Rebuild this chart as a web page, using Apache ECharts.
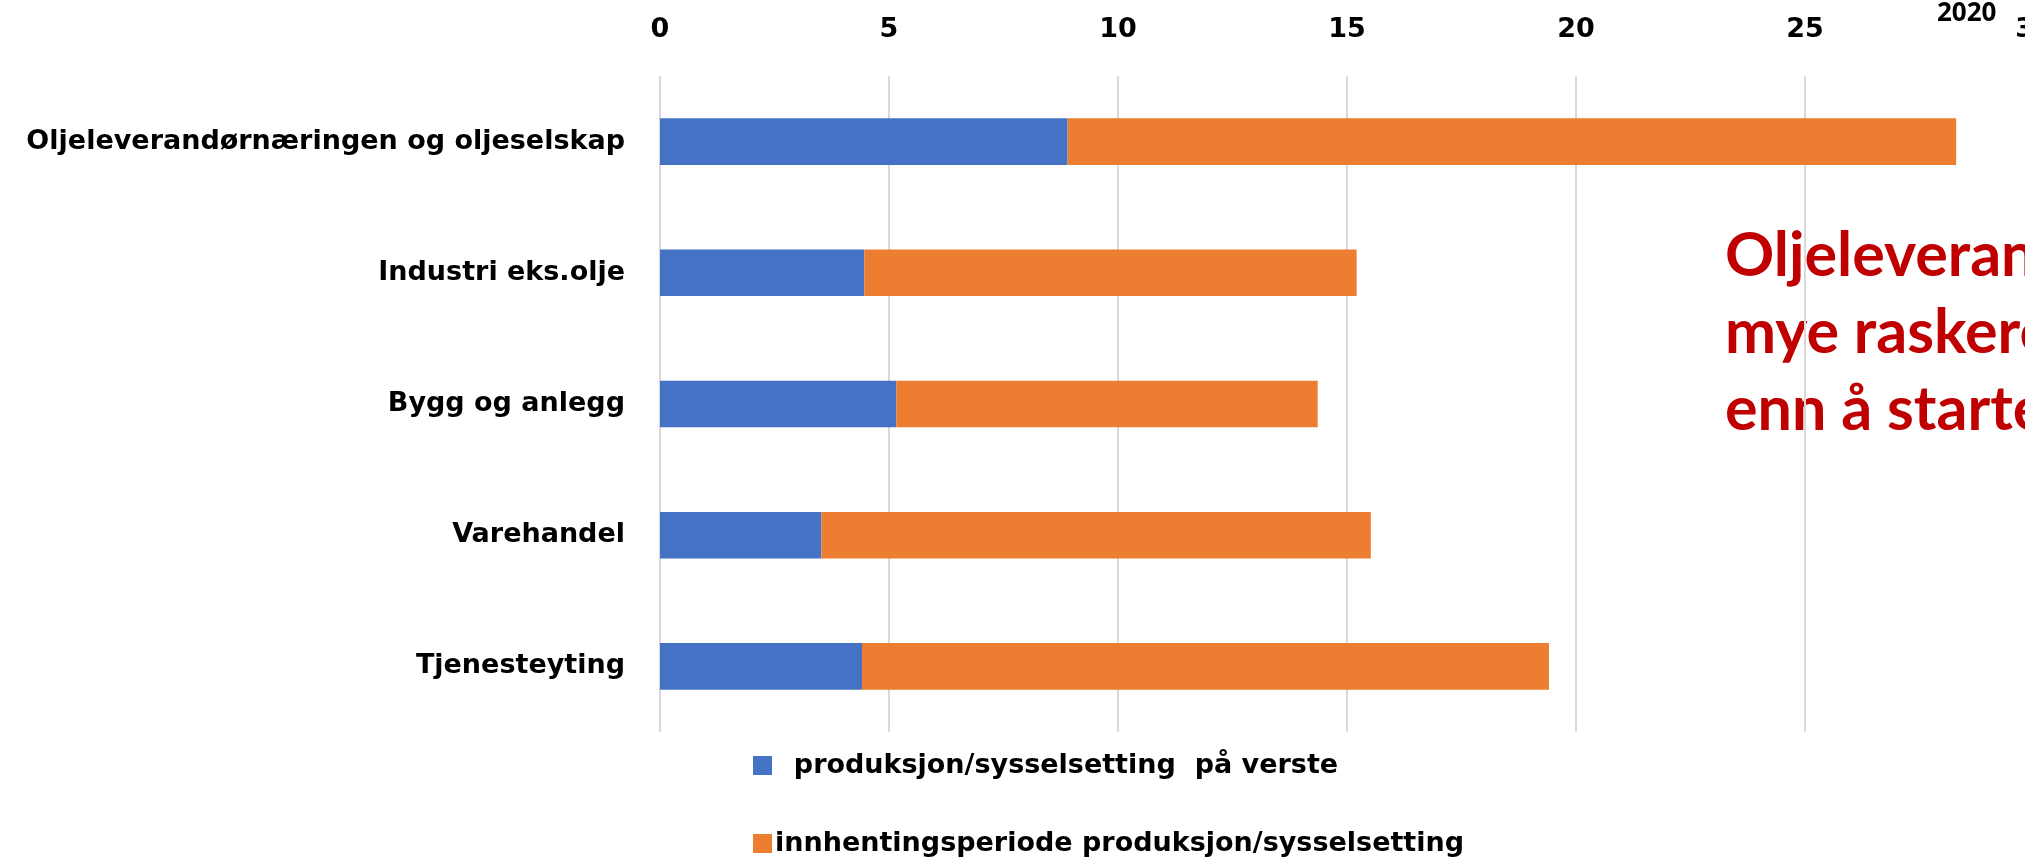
<!DOCTYPE html>
<html>
<head>
<meta charset="utf-8">
<script src="https://cdn.jsdelivr.net/npm/echarts@6/dist/echarts.min.js"></script>
<style>
html,body{margin:0;padding:0;background:#fff;}
#c{width:2025px;height:858px;}
</style>
</head>
<body>
<div id="c"></div>
<script>
var categories = ['Oljeleverandørnæringen og oljeselskap', 'Industri eks.olje', 'Bygg og anlegg', 'Varehandel', 'Tjenesteyting'];
var seriesNames = ['  produksjon/sysselsetting  på verste', 'innhentingsperiode produksjon/sysselsetting'];
var worstValues = [8.9, 4.46, 5.16, 3.52, 4.41];
var recoveryValues = [19.4, 10.75, 9.2, 12.0, 15.0];
var annotationLines = ['Oljeleverandørnæringen', 'mye raskere', 'enn å starte'];
var yearLabel = '2020';

var FONT = '"DejaVu Sans", sans-serif';
var legendText = { fontFamily: FONT, fontWeight: 'bold', fontSize: 27, color: '#000', padding: [0,0,0,-2] };
var chart = echarts.init(document.getElementById('c'));
chart.setOption({
  animation: false,
  backgroundColor: '#ffffff',
  grid: { left: 660, top: 76, width: 1374, height: 656, containLabel: false, outerBoundsMode: 'none' },
  xAxis: {
    type: 'value', position: 'top', min: 0, max: 30, interval: 5,
    axisLine: { show: false }, axisTick: { show: false },
    splitLine: { lineStyle: { color: '#d9d9d9', width: 2 } },
    axisLabel: { fontFamily: FONT, fontWeight: 'bold', fontSize: 27, color: '#000', margin: 33 }
  },
  yAxis: {
    type: 'category', inverse: true, data: categories,
    axisLine: { show: false }, axisTick: { show: false },
    axisLabel: { fontFamily: FONT, fontWeight: 'bold', fontSize: 27, color: '#000', margin: 35 }
  },
  legend: [
    { left: 753, top: 752, padding: 0, itemWidth: 19, itemHeight: 19, icon: 'rect',
      textStyle: legendText, data: [seriesNames[0]] },
    { left: 753, top: 830, padding: 0, itemWidth: 19, itemHeight: 19, icon: 'rect',
      textStyle: legendText, data: [seriesNames[1]] }
  ],
  series: [
    { name: seriesNames[0], type: 'bar', stack: 's', data: worstValues, barWidth: '35.5%',
      itemStyle: { color: '#4472c4' } },
    { name: seriesNames[1], type: 'bar', stack: 's', data: recoveryValues, barWidth: '35.5%',
      itemStyle: { color: '#ed7d31' } }
  ],
  graphic: [
    { type: 'text', left: 1937, top: 1, style: { text: yearLabel, fontFamily: '"Open Sans", sans-serif', fontWeight: 'bold', fontSize: 26, fill: '#000' } },
    { type: 'text', left: 1725, top: 218, style: { text: annotationLines.join('\n'), fontFamily: 'Lato, sans-serif', fontWeight: 'bold', fontSize: 61, lineHeight: 77, fill: '#c00000' } }
  ]
});
</script>
</body>
</html>
